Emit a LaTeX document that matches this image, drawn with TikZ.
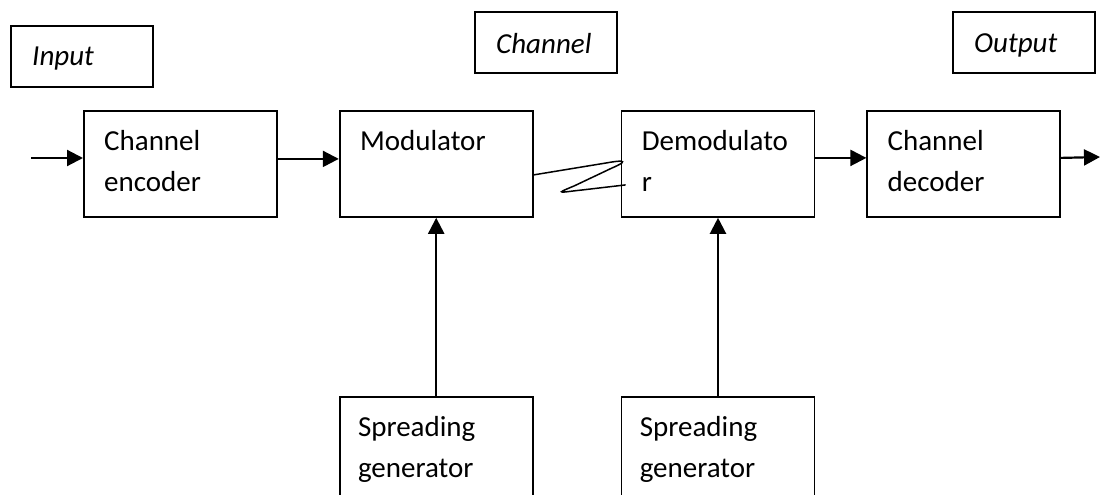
\documentclass[tikz,border=0pt]{standalone}
\usepackage{fontspec}
\setmainfont{Carlito}
\usetikzlibrary{positioning, arrows.meta}

\begin{document}
\begin{tikzpicture}[
    x=1pt, y=-1pt,
    node distance=61pt,
    block/.style={draw, line width=1.8pt, minimum width=193pt, minimum height=106pt, inner sep=0pt},
    tag/.style={draw, line width=1.8pt, minimum width=142pt, minimum height=61pt, inner sep=0pt},
    txt/.style={anchor=north west, align=left, inner sep=0pt, font=\fontsize{29}{41}\selectfont},
    tagtxt/.style={txt, font=\fontsize{29}{41}\selectfont\itshape},
    signal/.style={-{Triangle[length=16pt, width=16pt]}, line width=2.2pt}
]
\useasboundingbox (0,0) rectangle (1101,495);
\clip (0,0) rectangle (1101,495);

% labels over the chain
\node[tag, anchor=north west] (inbox) at (10,25) {};
\node[tag, anchor=north west] (chanbox) at (474,11) {};
\node[tag, anchor=north west] (outbox) at (952,11) {};
\node[tagtxt] (inbox-t) at ([xshift=22pt, yshift=-22pt]inbox.north west) {Input};
\node[tagtxt] (chanbox-t) at ([xshift=22pt, yshift=-22pt]chanbox.north west) {Channel};
\node[tagtxt] (outbox-t) at ([xshift=22pt, yshift=-22pt]outbox.north west) {Output};

% main chain
\node[block, anchor=north west] (enc) at (83,110) {};
\node[block, right=61pt of enc] (mod) {};
\node[block, right=87pt of mod] (demod) {};
\node[block, right=51pt of demod] (dec) {};
\node[block, minimum height=130pt, below=178pt of mod] (spread1) {};
\node[block, minimum height=130pt, below=178pt of demod] (spread2) {};

\node[txt] (enc-t) at ([xshift=21pt, yshift=-20pt]enc.north west) {Channel\\encoder};
\node[txt] (mod-t) at ([xshift=21pt, yshift=-20pt]mod.north west) {Modulator};
\node[txt] (demod-t) at ([xshift=21pt, yshift=-20pt]demod.north west) {Demodulato\\r};
\node[txt] (dec-t) at ([xshift=21pt, yshift=-20pt]dec.north west) {Channel\\decoder};
\node[txt] (spread1-t) at ([xshift=19pt, yshift=-20pt]spread1.north west) {Spreading\\generator};
\node[txt] (spread2-t) at ([xshift=19pt, yshift=-20pt]spread2.north west) {Spreading\\generator};

\coordinate (in) at (31,158);
\coordinate (out) at (1100,157);

\draw[signal] (in) -- (in -| enc.west);
\draw[signal] ([yshift=5pt]enc.east) -- ([yshift=5pt]mod.west);
\draw[signal] ([yshift=6pt]demod.east) -- ([yshift=6pt]dec.west);
\draw[signal] ([yshift=6pt]dec.east) -- (out);
\draw[signal] (spread1) -- (mod);
\draw[signal] (spread2) -- (demod);

% the radio link
\draw[line width=1.5pt] ([yshift=-11pt]mod.east) -- (606,163)
    .. controls (628,159) and (626,162) .. (612,168) -- (574,186)
    .. controls (552,195) and (562,192) .. (582,190)
    -- ([xshift=5pt, yshift=-21pt]demod.west);

\end{tikzpicture}
\end{document}
